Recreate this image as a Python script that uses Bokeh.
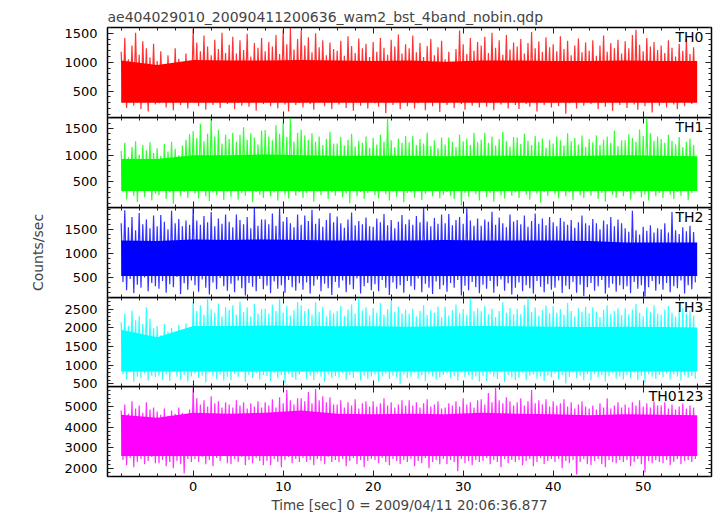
from bokeh.plotting import figure
from bokeh.layouts import column
from bokeh.models import Range1d, LinearAxis, FixedTicker, Label, CustomLabelingPolicy
from bokeh.embed import file_html
from bokeh.resources import INLINE

FONT = "DejaVu Sans"
title_text = "ae404029010_20090411200636_wam2_bst_4band_nobin.qdp"
x_label = "Time [sec] 0 = 2009/04/11 20:06:36.877"
y_label = "Counts/sec"
band_names = ["TH0", "TH1", "TH2", "TH3", "TH0123"]
band_colors = ["#ff0000", "#00ff00", "#0000ff", "#00ffff", "#ff00ff"]

# light-curve samples every 0.2 s starting at -8 s (one row = 4 s);
# consecutive samples alternate between the local highs and lows
t_start = -8.0
t_step = 0.2
# dense (solid-looking) band of each light curve, read every 4 s
core_times = [-8, -4, 0, 4, 8, 12, 16, 20, 24, 28, 32, 36, 40, 44, 48, 52, 56]

x_major = [0, 10, 20, 30, 40, 50]
x_minor = [-8, -6, -4, -2, 2, 4, 6, 8, 12, 14, 16, 18, 22, 24, 26, 28, 32, 34, 36, 38,
           42, 44, 46, 48, 52, 54, 56]

y_ranges = [(45, 1600), (20, 1705), (100, 1945), (430, 2810), (1600, 5970)]
y_major = [[500, 1000, 1500], [500, 1000, 1500], [500, 1000, 1500],
           [500, 1000, 1500, 2000, 2500], [2000, 3000, 4000, 5000]]
y_minor = [[100, 200, 300, 400, 600, 700, 800, 900, 1100, 1200, 1300, 1400, 1600],
           [100, 200, 300, 400, 600, 700, 800, 900, 1100, 1200, 1300, 1400, 1600, 1700],
           [200, 300, 400, 600, 700, 800, 900, 1100, 1200, 1300, 1400, 1600, 1700, 1800, 1900],
           [600, 700, 800, 900, 1100, 1200, 1300, 1400, 1600, 1700, 1800, 1900, 2100, 2200,
            2300, 2400, 2600, 2700, 2800],
           [1600, 1800, 2200, 2400, 2600, 2800, 3200, 3400, 3600, 3800, 4200, 4400, 4600,
            4800, 5200, 5400, 5600, 5800]]

th0_rate = [
    1180, 320, 1420, 210, 1050, 380, 1290, 250, 1510, 300, 1130, 190, 1360, 410, 1240, 150, 1080, 330, 1320, 270,
    1020, 290, 1190, 350, 930, 220, 1120, 400, 980, 170, 1240, 310, 1060, 260, 900, 380, 1150, 200, 1010, 340,
    1580, 300, 1340, 240, 1190, 390, 1460, 180, 1270, 330, 1120, 260, 1390, 420, 1230, 210, 1510, 350, 1160, 280,
    1300, 370, 1440, 190, 1150, 300, 1380, 250, 1210, 410, 1490, 230, 1100, 320, 1330, 160, 1250, 360, 1420, 280,
    1190, 310, 1350, 240, 1270, 380, 1470, 200, 1140, 340, 1560, 270, 1310, 150, 1590, 390, 1220, 260, 1400, 300,
    1550, 220, 1290, 360, 1430, 280, 1170, 180, 1500, 330, 1260, 400, 1380, 240, 1120, 310, 1340, 190, 1230, 350,
    1200, 270, 1370, 330, 1110, 210, 1450, 380, 1280, 160, 1160, 300, 1410, 250, 1240, 420, 1320, 200, 1090, 340,
    1350, 290, 1180, 230, 1420, 370, 1250, 120, 1130, 310, 1390, 260, 1270, 400, 1480, 190, 1150, 330, 1310, 240,
    1240, 350, 1460, 200, 1170, 290, 1330, 410, 1090, 170, 1280, 320, 1400, 240, 1120, 380, 1260, 140, 1370, 300,
    1050, 260, 1180, 330, 990, 210, 1230, 390, 1550, 280, 1310, 180, 1140, 340, 1420, 250, 1200, 310, 1350, 220,
    1290, 380, 1440, 230, 1160, 300, 1510, 170, 1250, 350, 1380, 270, 1130, 410, 1470, 200, 1220, 320, 1340, 260,
    1270, 190, 1400, 340, 1150, 280, 1330, 230, 1520, 370, 1240, 150, 1360, 310, 1180, 260, 1430, 400, 1260, 220,
    1310, 300, 1190, 240, 1450, 360, 1230, 110, 1370, 290, 1120, 330, 1290, 200, 1410, 380, 1170, 250, 1340, 310,
    1200, 280, 1380, 350, 1110, 190, 1290, 300, 1460, 230, 1180, 400, 1330, 160, 1240, 320, 1390, 260, 1150, 370,
    1360, 210, 1240, 330, 1470, 270, 1560, 180, 1300, 360, 1190, 240, 1420, 310, 1270, 130, 1350, 390, 1210, 250,
    1290, 300, 1160, 220, 1380, 350, 1250, 270, 1100, 190, 1320, 410, 1200, 240, 1410, 330, 1140, 280, 1260, 350]
th0_core_hi = [1030, 950, 1040, 1030, 1030, 1040, 1030, 1020, 1030, 1010, 1030, 1030, 1020, 1020, 1030, 1020, 1020]
th0_core_lo = [300, 300, 300, 300, 300, 300, 300, 300, 300, 300, 300, 300, 300, 300, 300, 300, 300]

th1_rate = [
    1080, 300, 1230, 170, 960, 360, 1150, 240, 1260, 120, 1010, 330, 1190, 210, 1090, 390, 1240, 150, 1040, 280,
    1130, 250, 990, 370, 1210, 180, 1070, 300, 1250, 90, 1120, 340, 1000, 230, 1180, 310, 1290, 200, 1390, 350,
    1450, 280, 1320, 190, 1590, 360, 1260, 230, 1400, 140, 1690, 300, 1350, 250, 1470, 380, 1220, 160, 1380, 320,
    1300, 220, 1420, 340, 1250, 170, 1380, 290, 1520, 240, 1290, 380, 1410, 120, 1330, 310, 1200, 260, 1460, 200,
    1470, 350, 1350, 230, 1280, 300, 1560, 150, 1400, 330, 1620, 260, 1340, 190, 1690, 370, 1250, 240, 1420, 310,
    1480, 200, 1370, 290, 1290, 360, 1410, 130, 1250, 320, 1350, 250, 1190, 380, 1300, 180, 1440, 300, 1220, 240,
    1220, 330, 1340, 210, 1180, 280, 1290, 100, 1400, 350, 1160, 230, 1270, 310, 1230, 180, 1350, 290, 1140, 360,
    1320, 250, 1200, 190, 1380, 340, 1250, 270, 1690, 150, 1280, 320, 1150, 220, 1310, 380, 1230, 120, 1360, 290,
    1240, 300, 1360, 200, 1190, 350, 1300, 160, 1220, 280, 1420, 330, 1170, 230, 1280, 370, 1130, 190, 1330, 260,
    1200, 310, 1330, 240, 1250, 180, 1150, 350, 1380, 60, 1260, 290, 1310, 220, 1190, 330, 1420, 270, 1240, 150,
    1290, 340, 1420, 210, 1230, 290, 1350, 130, 1180, 320, 1300, 250, 1440, 190, 1260, 360, 1160, 240, 1340, 300,
    1330, 200, 1210, 330, 1400, 260, 1270, 170, 1190, 350, 1360, 280, 1250, 110, 1310, 310, 1140, 240, 1290, 360,
    1220, 270, 1350, 190, 1280, 340, 1180, 230, 1410, 300, 1260, 160, 1320, 370, 1200, 250, 1370, 200, 1150, 320,
    1300, 240, 1240, 350, 1370, 180, 1190, 290, 1290, 130, 1350, 330, 1230, 260, 1460, 200, 1170, 370, 1280, 230,
    1280, 310, 1390, 170, 1320, 280, 1250, 340, 1480, 210, 1360, 260, 1690, 150, 1410, 320, 1270, 230, 1350, 290,
    1300, 200, 1230, 350, 1380, 260, 1270, 180, 1200, 310, 1340, 240, 1150, 370, 1250, 160, 1310, 290, 1190, 330]
th1_core_hi = [930, 930, 1000, 1000, 1010, 1000, 990, 990, 990, 980, 990, 990, 980, 990, 1000, 990, 980]
th1_core_lo = [330, 330, 330, 330, 330, 330, 330, 330, 330, 330, 330, 330, 330, 330, 330, 330, 330]

th2_rate = [
    1620, 420, 1890, 250, 1540, 480, 1750, 190, 1480, 360, 1830, 300, 1600, 510, 1700, 230, 1520, 400, 1780, 330,
    1560, 280, 1790, 440, 1650, 200, 1500, 370, 1880, 310, 1620, 520, 1710, 170, 1560, 390, 1680, 260, 1590, 450,
    1930, 350, 1680, 220, 1590, 470, 1770, 300, 1640, 160, 1850, 410, 1560, 270, 1720, 500, 1610, 330, 1800, 240,
    1650, 380, 1540, 210, 1800, 450, 1690, 290, 1600, 140, 1750, 400, 1520, 320, 1940, 230, 1570, 480, 1700, 270,
    1700, 340, 1600, 190, 1820, 430, 1570, 280, 1930, 350, 1660, 200, 1750, 460, 1620, 310, 1540, 240, 1800, 390,
    1590, 260, 1780, 410, 1670, 180, 1900, 340, 1610, 470, 1720, 230, 1550, 380, 1690, 290, 1830, 150, 1640, 420,
    1760, 300, 1620, 450, 1530, 210, 1700, 360, 1840, 270, 1580, 490, 1670, 180, 1600, 330, 1740, 400, 1560, 250,
    1550, 370, 1720, 230, 1640, 460, 1810, 300, 1580, 150, 1690, 410, 1520, 280, 1650, 350, 1790, 200, 1600, 440,
    1700, 330, 1590, 260, 1770, 490, 1640, 210, 1940, 380, 1660, 300, 1560, 170, 1730, 430, 1610, 270, 1800, 350,
    1620, 220, 1810, 400, 1580, 300, 1690, 460, 1750, 140, 1610, 340, 1930, 250, 1680, 420, 1570, 310, 1720, 190,
    1570, 360, 1700, 280, 1650, 440, 1860, 200, 1590, 330, 1740, 470, 1620, 240, 1540, 390, 1800, 160, 1660, 300,
    1690, 410, 1600, 230, 1780, 350, 1550, 290, 1670, 180, 1820, 440, 1610, 320, 1720, 210, 1580, 370, 1750, 260,
    1640, 300, 1560, 450, 1730, 190, 1660, 340, 1590, 270, 1690, 420, 1530, 200, 1640, 360, 1780, 130, 1620, 310,
    1580, 400, 1710, 240, 1620, 330, 1500, 460, 1680, 180, 1600, 300, 1750, 380, 1560, 220, 1700, 350, 1620, 270,
    1520, 330, 1450, 190, 1880, 420, 1480, 280, 1390, 350, 1550, 120, 1470, 310, 1580, 440, 1430, 240, 1520, 370,
    1500, 260, 1620, 400, 1430, 210, 1850, 330, 1480, 290, 1400, 450, 1540, 180, 1460, 350, 1570, 270, 1440, 410]
th2_core_hi = [1270, 1260, 1290, 1280, 1290, 1280, 1270, 1270, 1270, 1280, 1270, 1270, 1270, 1260, 1230, 1230, 1230]
th2_core_lo = [540, 540, 540, 540, 540, 540, 540, 540, 540, 540, 540, 540, 540, 540, 540, 540, 540]

th3_rate = [
    2150, 760, 2380, 620, 2050, 810, 2460, 560, 2200, 700, 2310, 650, 2100, 780, 2550, 590, 2240, 720, 1990, 680,
    2050, 720, 1800, 600, 2100, 760, 1900, 580, 2000, 830, 1750, 690, 2080, 610, 1850, 740, 2120, 560, 1950, 700,
    2700, 780, 2450, 660, 2600, 720, 2350, 540, 2790, 810, 2500, 700, 2400, 630, 2650, 750, 2300, 590, 2550, 690,
    2480, 600, 2600, 770, 2350, 690, 2700, 820, 2420, 560, 2550, 730, 2300, 660, 2640, 790, 2380, 620, 2500, 740,
    2510, 710, 2380, 580, 2620, 800, 2450, 650, 2760, 740, 2400, 520, 2580, 770, 2330, 680, 2470, 610, 2690, 750,
    2600, 820, 2450, 640, 2500, 720, 2350, 600, 2680, 780, 2420, 690, 2560, 550, 2300, 750, 2470, 660, 2390, 710,
    2450, 670, 2580, 790, 2320, 610, 2490, 740, 2620, 660, 2380, 810, 2800, 590, 2460, 720, 2550, 640, 2330, 700,
    2530, 750, 2400, 560, 2660, 700, 2350, 780, 2500, 630, 2720, 720, 2430, 680, 2560, 500, 2380, 760, 2480, 650,
    2380, 690, 2510, 800, 2300, 640, 2450, 730, 2600, 570, 2340, 760, 2480, 700, 2400, 620, 2570, 680, 2290, 740,
    2560, 780, 2330, 650, 2470, 710, 2620, 590, 2390, 800, 2500, 670, 2350, 740, 2780, 610, 2440, 700, 2520, 560,
    2440, 720, 2590, 580, 2360, 770, 2510, 690, 2290, 630, 2450, 810, 2680, 550, 2400, 740, 2530, 670, 2360, 600,
    2500, 660, 2370, 790, 2610, 600, 2800, 720, 2420, 750, 2540, 640, 2330, 700, 2470, 580, 2600, 730, 2390, 680,
    2580, 770, 2400, 620, 2500, 740, 2350, 510, 2660, 690, 2450, 800, 2300, 650, 2520, 720, 2430, 600, 2560, 760,
    2390, 600, 2550, 760, 2420, 680, 2290, 740, 2480, 570, 2600, 710, 2370, 790, 2450, 640, 2520, 700, 2340, 620,
    2520, 730, 2360, 650, 2480, 800, 2640, 600, 2400, 720, 2310, 540, 2550, 760, 2430, 690, 2600, 630, 2380, 740,
    2350, 680, 2490, 780, 2580, 620, 2400, 750, 2300, 700, 2460, 590, 2520, 730, 2380, 660, 2450, 710, 2330, 640]
th3_core_hi = [1950, 1750, 2050, 2050, 2060, 2050, 2040, 2040, 2030, 2040, 2050, 2040, 2030, 2020, 2030, 2020, 2010]
th3_core_lo = [830, 830, 830, 830, 830, 830, 830, 830, 830, 830, 830, 830, 830, 830, 830, 830, 830]

th0123_rate = [
    4800, 2400, 5100, 2150, 4650, 2500, 5250, 2050, 4900, 2300, 5050, 2450, 4700, 2200, 5200, 2350, 4850, 2550, 4950, 2250,
    4750, 2250, 4600, 2400, 4900, 2100, 4550, 2300, 4800, 2000, 4650, 2350, 4950, 2200, 4700, 1750, 4600, 2450, 4850, 2300,
    5950, 2450, 5400, 2300, 5100, 2550, 5300, 2200, 5000, 2400, 5500, 2100, 5150, 2500, 5250, 2350, 4950, 2600, 5200, 2250,
    5100, 2200, 4950, 2450, 5300, 2300, 5050, 2550, 5200, 2150, 4900, 2400, 5150, 2250, 5000, 2500, 5250, 2350, 4950, 2150,
    5200, 2350, 5050, 2150, 5350, 2450, 4950, 2300, 5450, 2050, 5150, 2400, 5800, 2550, 5300, 2250, 5100, 2450, 5400, 2300,
    5400, 2500, 5250, 2300, 5700, 2400, 5150, 2150, 5850, 2450, 5300, 2350, 5500, 2200, 5200, 2550, 5450, 2300, 5100, 2400,
    5100, 2300, 5300, 2450, 4950, 2100, 5200, 2350, 5050, 2500, 5350, 2200, 4900, 2400, 5150, 2050, 5250, 2350, 5000, 2450,
    5250, 2400, 5000, 2250, 5150, 2500, 5400, 2300, 5050, 2150, 5200, 2450, 4950, 2350, 5100, 2200, 5300, 2400, 5050, 2300,
    5300, 2450, 5050, 2100, 5200, 2350, 4950, 2250, 5150, 2500, 5350, 2000, 5000, 2300, 5100, 2400, 5250, 2200, 4900, 2450,
    4950, 2200, 5150, 2400, 5050, 2300, 5250, 1850, 5000, 2450, 5400, 2250, 5100, 2350, 5200, 2150, 4950, 2400, 5300, 2300,
    5350, 2350, 5100, 2500, 5650, 2200, 5200, 2400, 5900, 2300, 5300, 2050, 5150, 2450, 5450, 2250, 5250, 2400, 5050, 2300,
    5200, 2400, 5400, 2150, 5050, 2350, 5250, 2450, 5800, 2100, 5150, 2300, 5300, 2500, 5100, 2200, 5350, 2350, 5000, 2450,
    5250, 2300, 5050, 2450, 5150, 2000, 5350, 2350, 5000, 2250, 5200, 2400, 4900, 1700, 5100, 2300, 5250, 2450, 5000, 2200,
    4900, 2150, 5050, 2350, 4850, 2450, 5150, 2200, 4950, 2050, 5400, 2400, 4900, 2300, 5050, 2250, 5200, 2400, 4950, 2300,
    5100, 2400, 4950, 2100, 5200, 2300, 5050, 2450, 5300, 2200, 5000, 1800, 5150, 2350, 4950, 2250, 5250, 2400, 5050, 2300,
    5050, 2250, 5200, 2400, 4900, 2150, 5100, 2300, 4850, 2450, 5000, 2200, 5150, 2350, 4900, 2400, 5050, 2300, 4950, 2450]
th0123_core_hi = [4600, 4450, 4700, 4650, 4700, 4800, 4650, 4620, 4650, 4620, 4700, 4650, 4620, 4580, 4620, 4600, 4580]
th0123_core_lo = [2600, 2600, 2600, 2600, 2600, 2600, 2600, 2600, 2600, 2600, 2600, 2600, 2600, 2600, 2600, 2600, 2600]

rates = [th0_rate, th1_rate, th2_rate, th3_rate, th0123_rate]
core_hi = [th0_core_hi, th1_core_hi, th2_core_hi, th3_core_hi, th0123_core_hi]
core_lo = [th0_core_lo, th1_core_lo, th2_core_lo, th3_core_lo, th0123_core_lo]

W = 717
OVER = 8  # each lower panel overlaps the previous panel's spare bottom strip
frame_h = [90, 90, 90, 89, 90]
top_border = [27, 0, 0, 0, 0]
bottom_border = [OVER, OVER, OVER, OVER, 39]
x_range = Range1d(-9.52, 57.59)

hide_all = "for (const i of indices) indices.unset(i)"


def make_axis(major, minor, labels):
    ax = LinearAxis(ticker=FixedTicker(ticks=major, minor_ticks=minor))
    ax.axis_line_color = None
    ax.major_tick_in = 6
    ax.major_tick_out = 0
    ax.minor_tick_in = 3
    ax.minor_tick_out = 0
    ax.major_tick_line_color = "#222222"
    ax.minor_tick_line_color = "#222222"
    if labels:
        ax.major_label_text_font = FONT
        ax.major_label_text_font_size = "13px"
        ax.major_label_text_color = "black"
    else:
        ax.major_label_text_font_size = "0px"
        ax.major_label_standoff = 0
        ax.major_label_policy = CustomLabelingPolicy(code=hide_all)
    return ax


figs = []
for i in range(5):
    first = i == 0
    last = i == 4
    h = top_border[i] + frame_h[i] + bottom_border[i]
    p = figure(width=W, height=h, x_range=x_range, y_range=Range1d(*y_ranges[i]),
               output_backend="svg", toolbar_location=None,
               x_axis_location=None, y_axis_location=None,
               min_border_left=107, min_border_right=6,
               min_border_top=top_border[i], min_border_bottom=bottom_border[i])
    if not first:
        p.margin = (-OVER, 0, 0, 0)
    p.grid.visible = False
    p.outline_line_color = "black"
    p.outline_line_width = 1.5
    p.background_fill_color = None
    p.border_fill_color = None

    left = make_axis(y_major[i], y_minor[i], True)
    left.major_label_standoff = 10
    if i == 2:
        left.axis_label = y_label
        left.axis_label_text_font = FONT
        left.axis_label_text_font_size = "14px"
        left.axis_label_text_font_style = "normal"
        left.axis_label_standoff = 15
    p.add_layout(left, "left")
    p.add_layout(make_axis(y_major[i], y_minor[i], False), "right")
    p.add_layout(make_axis(x_major, x_minor, False), "above")
    bottom = make_axis(x_major, x_minor, last)
    if last:
        bottom.major_label_standoff = 5
        bottom.axis_label = x_label
        bottom.axis_label_text_font = FONT
        bottom.axis_label_text_font_size = "13.5px"
        bottom.axis_label_text_font_style = "normal"
        bottom.axis_label_standoff = 3
    p.add_layout(bottom, "below")

    if first:
        p.title.text = title_text
        p.title.text_font = FONT
        p.title.text_font_size = "14px"
        p.title.text_font_style = "normal"
        p.title.align = "left"
        p.title.standoff = 5

    vals = rates[i]
    xs = [t_start + k * t_step for k in range(len(vals))]
    color = band_colors[i]
    p.varea(x=core_times, y1=core_lo[i], y2=core_hi[i], fill_color=color, fill_alpha=1.0)
    p.line(xs, vals, line_color=color, line_width=1.2, line_alpha=0.8)

    p.add_layout(Label(x=x_range.end, y=y_ranges[i][1], x_offset=-8, y_offset=-1,
                       text=band_names[i], text_align="right", text_baseline="top",
                       text_font=FONT, text_font_size="14px", text_color="black"))
    figs.append(p)

layout = column(*figs, spacing=0)
open("out.html", "w").write(file_html(layout, INLINE))
